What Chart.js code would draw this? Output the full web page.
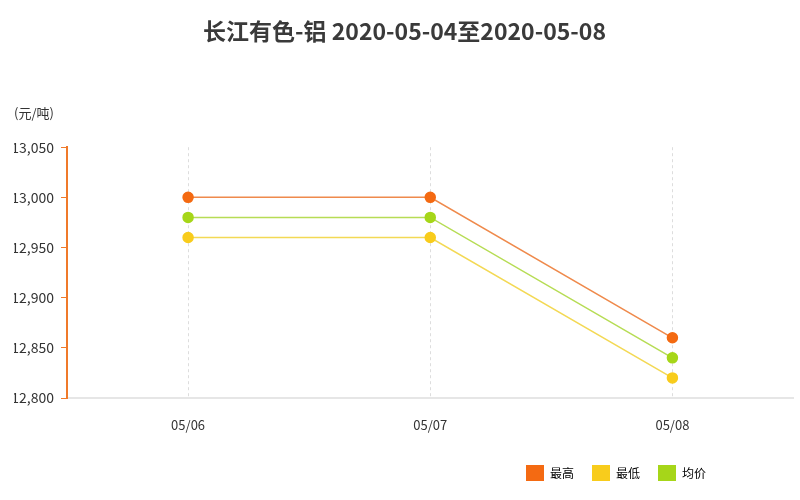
<!DOCTYPE html>
<html>
<head>
<meta charset="utf-8">
<script src="https://cdn.jsdelivr.net/npm/chart.js@4"></script>
<style>
  html, body { margin: 0; padding: 0; background: #ffffff; }
  #wrap { width: 800px; height: 500px; position: relative; }
</style>
</head>
<body>
<div id="wrap"><canvas id="c" width="800" height="500"></canvas></div>
<script>
// ---- data ----
const categories = ['05/06', '05/07', '05/08'];
const seriesNames = ['最高', '最低', '均价'];
const highValues = [13000, 13000, 12860];
const lowValues = [12960, 12960, 12820];
const avgValues = [12980, 12980, 12840];
const yTicks = [12800, 12850, 12900, 12950, 13000, 13050];
const titleText = '长江有色-铝 2020-05-04至2020-05-08';
const unitText = '(元/吨)';

// ---- styles ----
const pointColors = ['#f46a12', '#f8cc1c', '#a6d619'];
const lineColors = ['#ef8a4c', '#f3d955', '#b7dc55'];
const FONT = '"Noto Sans CJK SC", "Noto Sans", sans-serif';

const seriesValues = [highValues, lowValues, avgValues];
const datasets = seriesNames.map((name, i) => ({
  label: name,
  data: seriesValues[i],
  borderColor: lineColors[i],
  backgroundColor: pointColors[i],
  pointBackgroundColor: pointColors[i],
  pointBorderColor: pointColors[i],
  pointRadius: 5,
  pointHoverRadius: 5,
  borderWidth: 1.5,
  tension: 0,
  fill: false
}));

const legendPlacer = {
  id: 'legendPlacer',
  afterLayout(chart) {
    const lg = chart.legend;
    if (!lg) return;
    const pad = lg.options.labels.padding;
    const dx = 526 - pad - lg.left;
    lg.left += dx; lg.right += dx;
    const dy = 465 - pad - lg.top;
    lg.top += dy; lg.bottom += dy;
  }
};

new Chart(document.getElementById('c'), {
  type: 'line',
  data: { labels: categories, datasets: datasets },
  plugins: [legendPlacer],
  options: {
    responsive: false,
    animation: false,
    devicePixelRatio: 1,
    layout: { padding: { left: 14, right: 5, top: 0, bottom: 0 } },
    plugins: {
      title: {
        display: true,
        text: titleText,
        color: '#3a3a3a',
        font: { family: FONT, size: 23, weight: 'bold' },
        padding: { top: 17, bottom: 61 }
      },
      subtitle: {
        display: true,
        text: unitText,
        align: 'start',
        color: '#333333',
        font: { family: FONT, size: 13 },
        padding: { top: 0, bottom: 26 }
      },
      legend: {
        display: true,
        position: 'bottom',
        align: 'start',
        labels: {
          boxWidth: 18,
          boxHeight: 16,
          padding: 18,
          color: '#444444',
          font: { family: FONT, size: 12 },
          generateLabels(chart) {
            return chart.data.datasets.map((ds, i) => ({
              text: ds.label,
              fillStyle: ds.backgroundColor,
              strokeStyle: ds.backgroundColor,
              lineWidth: 0,
              hidden: false,
              datasetIndex: i
            }));
          }
        }
      },
      tooltip: { enabled: false }
    },
    scales: {
      x: {
        type: 'category',
        offset: true,
        grid: {
          display: true,
          offset: false,
          drawOnChartArea: true,
          drawTicks: false,
          color: '#dddddd',
          lineWidth: 1
        },
        border: { display: true, color: '#e6e6e6', width: 2, dash: [3, 3] },
        ticks: {
          color: '#333333',
          font: { family: FONT, size: 13 },
          padding: 19,
          maxRotation: 0
        },
        afterFit(s) {
          const lh = s.chart.legend ? s.chart.legend.height : 0;
          s.height = 500 - 398 - lh;
        }
      },
      y: {
        min: 12800,
        max: 13050,
        afterBuildTicks(s) { s.ticks = yTicks.map(v => ({ value: v })); },
        grid: {
          display: true,
          drawOnChartArea: false,
          drawTicks: true,
          tickLength: 6,
          tickColor: '#f07a2a',
          tickWidth: 1
        },
        border: { display: true, color: '#f07a2a', width: 2 },
        ticks: {
          color: '#333333',
          font: { family: FONT, size: 14 },
          padding: 7
        },
        afterFit(s) { s.width = 53; }
      }
    }
  }
});
</script>
</body>
</html>
